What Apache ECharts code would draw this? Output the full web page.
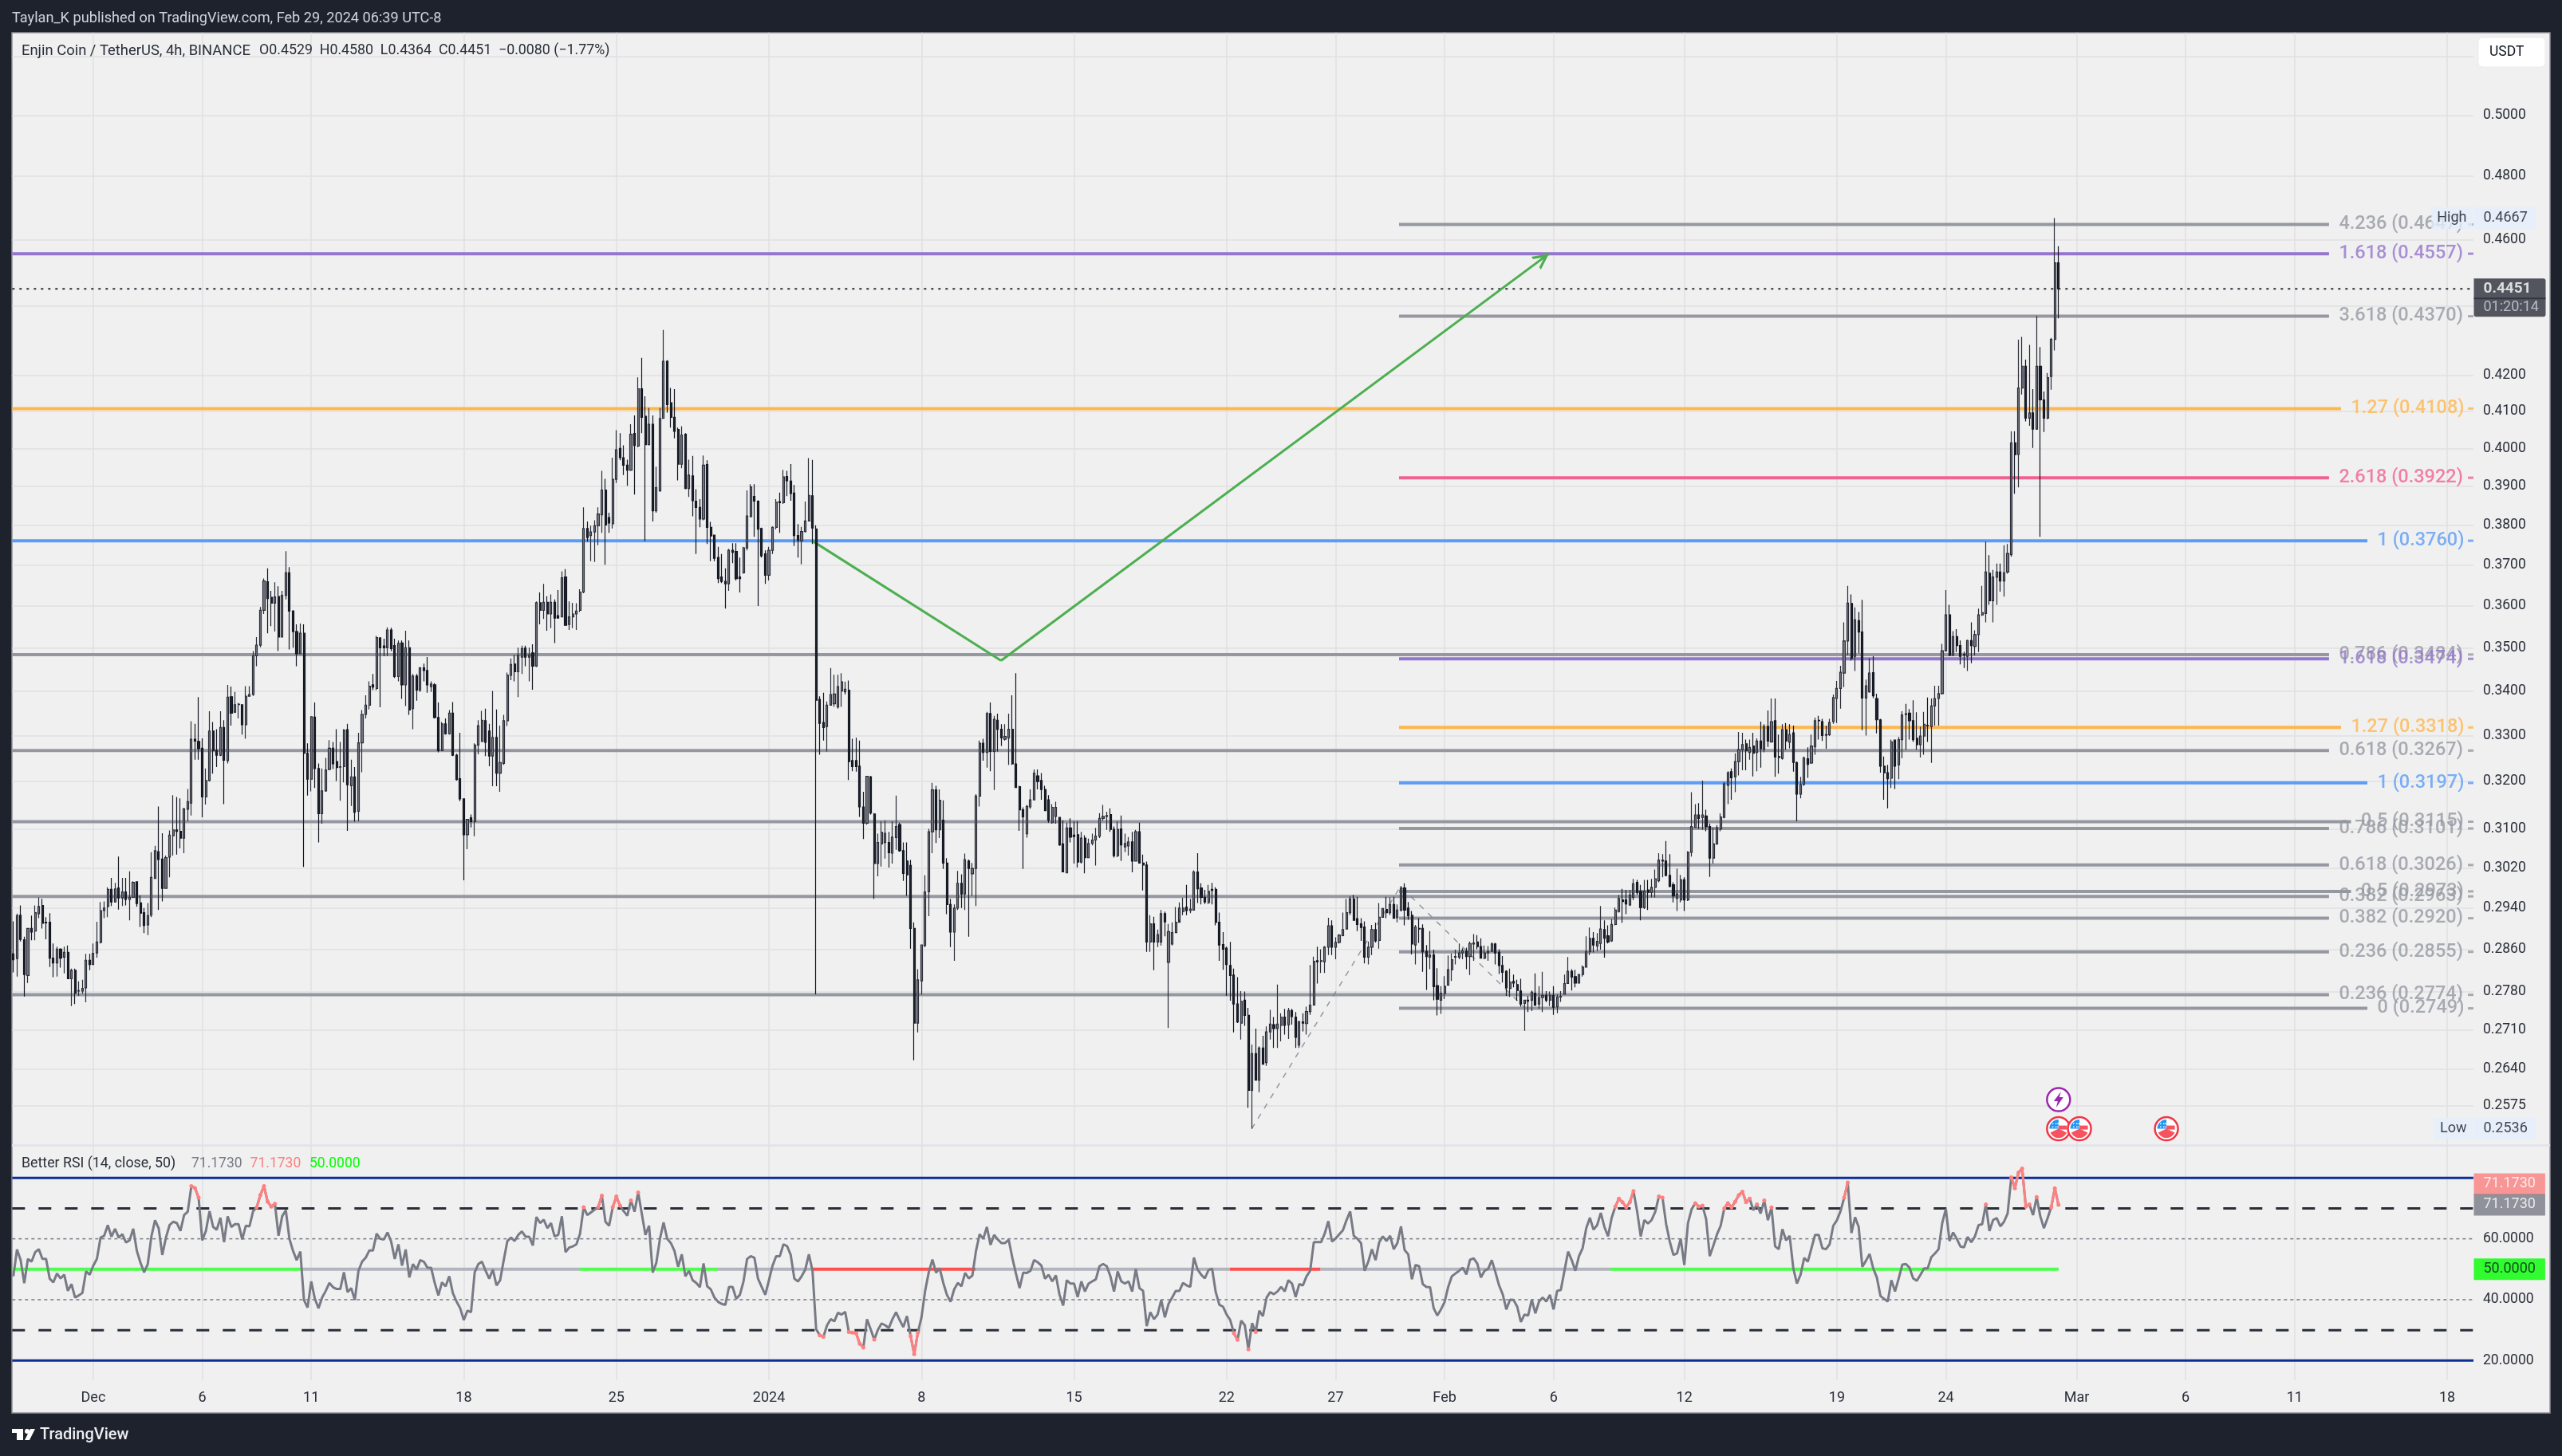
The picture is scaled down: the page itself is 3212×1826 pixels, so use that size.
<!DOCTYPE html>
<html><head><meta charset="utf-8">
<style>html,body{margin:0;padding:0;background:#1e222d}#c{width:3212px;height:1826px}</style>
<script src="https://cdn.jsdelivr.net/npm/echarts@6/dist/echarts.min.js"></script>
</head><body><div id="c"></div>
<script>
// ENJ/USDT 4h candles, oldest first
const opens=[
.2851,.2842,.2926,.2878,.2810,.2900,.2895,.2929,.2945,.2912,
.2912,.2843,.2834,.2860,.2845,.2854,.2804,.2820,.2781,.2781,
.2787,.2839,.2831,.2853,.2873,.2935,.2943,.2977,.2952,.2980,
.2960,.2972,.2957,.2961,.2992,.2950,.2931,.2907,.2926,.2999,
.3053,.3038,.2979,.3042,.3086,.3098,.3095,.3081,.3141,.3154,
.3292,.3287,.3272,.3167,.3202,.3310,.3267,.3257,.3318,.3245,
.3387,.3352,.3369,.3369,.3324,.3388,.3392,.3481,.3506,.3589,
.3658,.3620,.3606,.3622,.3525,.3625,.3680,.3587,.3538,.3486,
.3534,.3261,.3205,.3341,.3228,.3132,.3180,.3226,.3272,.3243,
.3231,.3232,.3313,.3191,.3210,.3137,.3284,.3347,.3368,.3414,
.3406,.3523,.3504,.3500,.3542,.3505,.3433,.3511,.3414,.3500,
.3360,.3434,.3402,.3453,.3447,.3410,.3414,.3340,.3267,.3326,
.3304,.3350,.3257,.3206,.3163,.3088,.3123,.3115,.3279,.3287,
.3333,.3310,.3255,.3296,.3218,.3239,.3333,.3436,.3462,.3444,
.3478,.3499,.3478,.3488,.3457,.3607,.3589,.3608,.3580,.3608,
.3576,.3573,.3670,.3555,.3573,.3580,.3589,.3633,.3791,.3773,
.3782,.3798,.3826,.3890,.3819,.3803,.3918,.4000,.3975,.3955,
.3942,.4040,.4006,.4163,.4087,.4010,.4065,.3836,.3888,.4081,
.4240,.4124,.4084,.4051,.3958,.4038,.3894,.3927,.3861,.3845,
.3815,.3957,.3794,.3774,.3718,.3670,.3659,.3653,.3736,.3733,
.3670,.3680,.3742,.3821,.3873,.3861,.3791,.3727,.3674,.3736,
.3794,.3860,.3857,.3925,.3913,.3882,.3773,.3760,.3783,.3810,
.3875,.3790,.3381,.3329,.3320,.3368,.3371,.3364,.3400,.3398,
.3402,.3245,.3245,.3233,.3146,.3112,.3210,.3131,.3029,.3069,
.3072,.3072,.3050,.3082,.3109,.3055,.3034,.3025,.2900,.2722,
.2800,.2867,.2972,.3094,.3182,.3098,.3118,.3030,.2947,.2893,
.2940,.2989,.2968,.3034,.3008,.3019,.3169,.3283,.3263,.3349,
.3265,.3334,.3314,.3292,.3295,.3314,.3238,.3189,.3140,.3090,
.3146,.3161,.3212,.3202,.3183,.3161,.3113,.3126,.3124,.3069,
.3010,.3102,.3087,.3088,.3032,.3081,.3041,.3070,.3077,.3085,
.3122,.3126,.3130,.3099,.3045,.3100,.3063,.3065,.3073,.3034,
.3094,.3030,.3026,.2874,.2909,.2874,.2874,.2929,.2835,.2870,
.2892,.2912,.2933,.2942,.2935,.2936,.3012,.2980,.2961,.2951,
.2977,.2977,.2912,.2869,.2862,.2829,.2811,.2757,.2722,.2764,
.2736,.2602,.2667,.2620,.2677,.2651,.2706,.2719,.2712,.2718,
.2733,.2719,.2745,.2733,.2682,.2724,.2721,.2743,.2755,.2838,
.2837,.2836,.2864,.2905,.2864,.2873,.2886,.2899,.2931,.2958,
.2919,.2909,.2903,.2845,.2864,.2898,.2877,.2922,.2937,.2931,
.2947,.2921,.2936,.2980,.2940,.2926,.2868,.2900,.2900,.2856,
.2845,.2849,.2791,.2764,.2776,.2792,.2821,.2845,.2845,.2853,
.2856,.2846,.2870,.2874,.2865,.2843,.2853,.2856,.2870,.2854,
.2829,.2818,.2786,.2799,.2793,.2781,.2758,.2764,.2764,.2777,
.2757,.2769,.2773,.2764,.2773,.2752,.2770,.2775,.2795,.2818,
.2808,.2796,.2812,.2826,.2855,.2881,.2866,.2871,.2898,.2886,
.2876,.2908,.2933,.2956,.2956,.2946,.2961,.2991,.2973,.2941,
.2976,.2971,.2981,.2994,.3034,.3034,.3005,.2986,.2959,.2956,
.2996,.2956,.3052,.3103,.3129,.3124,.3127,.3105,.3040,.3069,
.3100,.3124,.3192,.3221,.3210,.3243,.3269,.3282,.3263,.3277,
.3263,.3288,.3270,.3320,.3286,.3333,.3254,.3250,.3313,.3285,
.3306,.3241,.3173,.3194,.3249,.3240,.3275,.3334,.3331,.3302,
.3302,.3331,.3383,.3406,.3441,.3516,.3605,.3480,.3564,.3537,
.3384,.3398,.3442,.3383,.3335,.3233,.3219,.3207,.3290,.3236,
.3291,.3348,.3350,.3333,.3294,.3280,.3299,.3323,.3320,.3366,
.3383,.3394,.3493,.3578,.3482,.3526,.3505,.3484,.3480,.3517,
.3503,.3531,.3578,.3581,.3679,.3612,.3669,.3682,.3660,.3682,
.3725,.4015,.3984,.4165,.4226,.4082,.4096,.4052,.4226,.4132,
.4082,.4197,.4303,.4529];
const closes=[
.2840,.2925,.2879,.2812,.2900,.2893,.2931,.2943,.2910,.2911,
.2843,.2834,.2860,.2843,.2854,.2804,.2820,.2777,.2782,.2786,
.2839,.2831,.2852,.2874,.2935,.2940,.2977,.2952,.2978,.2960,
.2972,.2957,.2961,.2991,.2949,.2930,.2906,.2925,.3001,.3055,
.3037,.2979,.3041,.3087,.3098,.3095,.3081,.3142,.3157,.3292,
.3288,.3271,.3167,.3202,.3310,.3267,.3257,.3318,.3246,.3386,
.3350,.3369,.3370,.3324,.3388,.3392,.3481,.3506,.3589,.3660,
.3617,.3606,.3621,.3525,.3625,.3680,.3587,.3538,.3486,.3534,
.3261,.3205,.3342,.3228,.3132,.3180,.3225,.3272,.3238,.3230,
.3232,.3312,.3193,.3210,.3135,.3284,.3347,.3368,.3411,.3409,
.3524,.3500,.3500,.3542,.3498,.3433,.3510,.3414,.3500,.3357,
.3434,.3402,.3453,.3447,.3414,.3416,.3340,.3267,.3326,.3304,
.3350,.3257,.3204,.3163,.3088,.3120,.3115,.3279,.3322,.3334,
.3285,.3255,.3296,.3218,.3241,.3333,.3436,.3461,.3444,.3482,
.3498,.3478,.3483,.3457,.3607,.3589,.3608,.3580,.3608,.3570,
.3570,.3668,.3553,.3573,.3580,.3587,.3633,.3791,.3768,.3782,
.3798,.3828,.3890,.3800,.3805,.3918,.3996,.3975,.3955,.3942,
.4038,.4008,.4163,.4084,.4010,.4065,.3836,.3896,.4081,.4240,
.4119,.4084,.4046,.3958,.4036,.3894,.3929,.3862,.3845,.3815,
.3955,.3794,.3772,.3716,.3666,.3659,.3653,.3736,.3731,.3666,
.3666,.3742,.3823,.3898,.3861,.3789,.3722,.3674,.3736,.3794,
.3858,.3857,.3924,.3914,.3881,.3773,.3761,.3783,.3810,.3876,
.3792,.3379,.3327,.3318,.3368,.3392,.3393,.3410,.3421,.3404,
.3243,.3232,.3232,.3146,.3112,.3211,.3133,.3029,.3072,.3093,
.3091,.3051,.3083,.3105,.3055,.3009,.3006,.2900,.2722,.2802,
.2868,.2972,.3094,.3182,.3098,.3160,.3030,.2947,.2893,.2940,
.2989,.2968,.3037,.3019,.3019,.3169,.3283,.3263,.3349,.3265,
.3336,.3314,.3295,.3298,.3314,.3238,.3187,.3140,.3125,.3147,
.3161,.3218,.3200,.3183,.3138,.3118,.3145,.3145,.3067,.3012,
.3102,.3083,.3084,.3032,.3081,.3041,.3070,.3077,.3085,.3122,
.3126,.3128,.3099,.3045,.3099,.3067,.3070,.3073,.3034,.3094,
.3030,.3026,.2874,.2909,.2874,.2888,.2929,.2913,.2894,.2892,
.2912,.2940,.2940,.2935,.2938,.3012,.2978,.2961,.2952,.2973,
.2975,.2912,.2868,.2860,.2831,.2810,.2757,.2724,.2762,.2736,
.2602,.2667,.2620,.2677,.2648,.2706,.2720,.2712,.2720,.2733,
.2718,.2745,.2734,.2696,.2725,.2722,.2743,.2755,.2837,.2836,
.2838,.2864,.2905,.2864,.2873,.2887,.2898,.2931,.2958,.2916,
.2908,.2902,.2845,.2864,.2898,.2876,.2922,.2939,.2931,.2947,
.2920,.2936,.2980,.2936,.2925,.2870,.2903,.2899,.2855,.2846,
.2849,.2789,.2766,.2777,.2790,.2821,.2840,.2846,.2853,.2857,
.2846,.2871,.2872,.2865,.2843,.2853,.2856,.2870,.2853,.2829,
.2816,.2787,.2798,.2796,.2782,.2757,.2764,.2762,.2779,.2755,
.2769,.2773,.2764,.2773,.2751,.2770,.2771,.2795,.2818,.2807,
.2796,.2812,.2826,.2855,.2881,.2868,.2875,.2899,.2881,.2874,
.2908,.2936,.2959,.2953,.2948,.2966,.2988,.2971,.2941,.2973,
.2971,.2981,.2998,.3036,.3036,.3005,.2983,.2964,.2968,.2996,
.2956,.3052,.3105,.3129,.3122,.3129,.3105,.3040,.3069,.3102,
.3125,.3195,.3219,.3208,.3243,.3269,.3280,.3267,.3274,.3261,
.3288,.3271,.3320,.3288,.3331,.3253,.3252,.3313,.3288,.3302,
.3241,.3173,.3193,.3251,.3237,.3277,.3333,.3333,.3300,.3301,
.3329,.3385,.3406,.3443,.3516,.3606,.3475,.3566,.3537,.3384,
.3412,.3441,.3389,.3335,.3233,.3219,.3206,.3286,.3233,.3291,
.3346,.3347,.3333,.3291,.3280,.3299,.3325,.3322,.3366,.3383,
.3394,.3493,.3578,.3482,.3526,.3505,.3480,.3483,.3517,.3505,
.3531,.3578,.3583,.3682,.3612,.3670,.3682,.3660,.3680,.3728,
.4015,.3983,.4165,.4226,.4082,.4096,.4052,.4226,.4132,.4082,
.4194,.4303,.4529,.4451];
const lows=[
.2816,.2808,.2875,.2771,.2796,.2877,.2877,.2920,.2900,.2879,
.2826,.2807,.2808,.2825,.2814,.2804,.2753,.2757,.2772,.2776,
.2760,.2820,.2831,.2844,.2871,.2920,.2922,.2944,.2952,.2937,
.2944,.2945,.2916,.2960,.2943,.2903,.2891,.2887,.2922,.2999,
.2936,.2953,.2978,.3001,.3045,.3047,.3060,.3050,.3116,.3128,
.3247,.3247,.3124,.3151,.3200,.3217,.3231,.3255,.3152,.3239,
.3322,.3350,.3338,.3302,.3293,.3389,.3389,.3457,.3501,.3580,
.3534,.3551,.3538,.3492,.3525,.3615,.3496,.3500,.3457,.3486,
.3022,.3170,.3179,.3186,.3072,.3111,.3178,.3224,.3227,.3201,
.3159,.3198,.3096,.3148,.3115,.3116,.3220,.3338,.3358,.3402,
.3402,.3363,.3480,.3480,.3492,.3430,.3422,.3382,.3366,.3346,
.3314,.3378,.3398,.3422,.3396,.3398,.3338,.3263,.3267,.3302,
.3302,.3255,.3202,.3158,.2995,.3058,.3103,.3085,.3259,.3287,
.3255,.3233,.3190,.3190,.3178,.3236,.3321,.3425,.3422,.3386,
.3439,.3457,.3422,.3403,.3455,.3555,.3568,.3540,.3546,.3511,
.3570,.3572,.3552,.3542,.3546,.3542,.3585,.3630,.3758,.3709,
.3707,.3749,.3780,.3700,.3780,.3791,.3908,.3968,.3929,.3901,
.3940,.3878,.4003,.4041,.3759,.4008,.3809,.3831,.3885,.4080,
.4097,.4056,.4027,.3915,.3947,.3892,.3872,.3822,.3727,.3794,
.3812,.3752,.3709,.3709,.3655,.3655,.3593,.3636,.3704,.3661,
.3632,.3678,.3736,.3819,.3770,.3599,.3718,.3653,.3661,.3727,
.3789,.3780,.3854,.3874,.3862,.3747,.3718,.3701,.3781,.3809,
.3752,.2775,.3258,.3289,.3265,.3368,.3364,.3360,.3364,.3392,
.3203,.3222,.3221,.3125,.3079,.3109,.3130,.2958,.3003,.3023,
.3039,.3021,.3029,.3057,.3053,.2994,.2964,.2861,.2655,.2705,
.2774,.2864,.2924,.3050,.3071,.3081,.3018,.2928,.2864,.2838,
.2936,.2940,.2936,.2884,.2964,.2944,.3147,.3245,.3230,.3222,
.3182,.3265,.3277,.3289,.3236,.3236,.3187,.3096,.3018,.3082,
.3142,.3161,.3183,.3161,.3137,.3113,.3111,.3111,.3065,.3011,
.3009,.3072,.3029,.3021,.3029,.3009,.3041,.3066,.3025,.3081,
.3117,.3098,.3094,.3041,.3042,.3034,.3052,.3045,.3011,.3033,
.3029,.2975,.2855,.2855,.2820,.2864,.2867,.2885,.2713,.2867,
.2892,.2917,.2926,.2926,.2930,.2936,.2950,.2947,.2948,.2948,
.2947,.2906,.2838,.2821,.2772,.2763,.2705,.2722,.2692,.2717,
.2572,.2536,.2620,.2599,.2648,.2645,.2692,.2677,.2677,.2689,
.2701,.2693,.2719,.2677,.2677,.2707,.2701,.2737,.2754,.2795,
.2815,.2815,.2849,.2849,.2841,.2871,.2885,.2898,.2926,.2915,
.2895,.2876,.2833,.2831,.2849,.2873,.2861,.2921,.2920,.2926,
.2919,.2912,.2933,.2906,.2917,.2850,.2831,.2872,.2817,.2783,
.2822,.2764,.2736,.2739,.2766,.2791,.2800,.2831,.2841,.2841,
.2822,.2811,.2838,.2860,.2842,.2841,.2838,.2855,.2831,.2813,
.2797,.2772,.2770,.2788,.2763,.2752,.2708,.2742,.2744,.2753,
.2748,.2742,.2760,.2753,.2737,.2740,.2761,.2775,.2797,.2782,
.2788,.2795,.2808,.2825,.2849,.2854,.2856,.2859,.2844,.2871,
.2874,.2906,.2931,.2911,.2928,.2944,.2956,.2966,.2916,.2938,
.2936,.2961,.2961,.2991,.3001,.3003,.2981,.2951,.2934,.2951,
.2934,.2954,.3043,.3102,.3100,.3098,.3095,.3002,.3029,.3067,
.3095,.3122,.3152,.3161,.3177,.3213,.3224,.3224,.3247,.3211,
.3222,.3230,.3263,.3275,.3284,.3210,.3217,.3247,.3269,.3272,
.3221,.3116,.3164,.3191,.3208,.3238,.3258,.3291,.3288,.3271,
.3299,.3326,.3328,.3360,.3409,.3483,.3470,.3446,.3487,.3312,
.3300,.3396,.3384,.3305,.3219,.3161,.3143,.3186,.3184,.3205,
.3250,.3269,.3291,.3286,.3269,.3252,.3258,.3286,.3240,.3322,
.3322,.3392,.3491,.3480,.3482,.3490,.3461,.3453,.3446,.3464,
.3482,.3490,.3575,.3560,.3602,.3560,.3602,.3634,.3622,.3678,
.3720,.3880,.3897,.4147,.4073,.4061,.4001,.4050,.3770,.4044,
.4079,.4160,.4271,.4364];
const highs=[
.2914,.2929,.2945,.2884,.2900,.2925,.2945,.2961,.2958,.2922,
.2930,.2871,.2865,.2862,.2865,.2867,.2823,.2823,.2799,.2802,
.2851,.2851,.2871,.2913,.2952,.2953,.2981,.3000,.2990,.3043,
.3000,.3000,.3013,.2993,.2993,.2965,.2940,.2950,.3052,.3065,
.3147,.3091,.3045,.3097,.3171,.3167,.3164,.3144,.3184,.3332,
.3326,.3386,.3294,.3228,.3354,.3330,.3314,.3354,.3334,.3414,
.3410,.3398,.3373,.3369,.3411,.3411,.3492,.3525,.3597,.3666,
.3691,.3636,.3657,.3647,.3636,.3734,.3694,.3589,.3555,.3557,
.3555,.3283,.3342,.3374,.3239,.3228,.3251,.3290,.3286,.3314,
.3286,.3314,.3326,.3247,.3231,.3306,.3357,.3390,.3422,.3439,
.3528,.3525,.3521,.3548,.3547,.3521,.3517,.3517,.3540,.3517,
.3439,.3439,.3455,.3463,.3478,.3422,.3418,.3374,.3330,.3338,
.3357,.3375,.3260,.3306,.3163,.3121,.3130,.3283,.3334,.3355,
.3360,.3326,.3400,.3358,.3322,.3346,.3442,.3475,.3483,.3500,
.3505,.3505,.3500,.3508,.3610,.3632,.3653,.3623,.3627,.3615,
.3638,.3684,.3689,.3610,.3607,.3606,.3640,.3845,.3809,.3798,
.3812,.3845,.3940,.3919,.3831,.3975,.4049,.4041,.4008,.3970,
.4065,.4089,.4195,.4250,.4142,.4110,.4089,.3951,.4110,.4330,
.4243,.4165,.4162,.4056,.4060,.4041,.3970,.3980,.3892,.3866,
.3981,.3968,.3808,.3774,.3745,.3727,.3691,.3740,.3754,.3754,
.3718,.3745,.3889,.3905,.3905,.3863,.3793,.3736,.3745,.3796,
.3866,.3883,.3943,.3940,.3958,.3903,.3802,.3795,.3860,.3974,
.3969,.3799,.3388,.3396,.3376,.3453,.3437,.3437,.3441,.3421,
.3424,.3293,.3295,.3289,.3178,.3212,.3212,.3133,.3090,.3116,
.3118,.3094,.3116,.3170,.3113,.3072,.3072,.3036,.2912,.2822,
.2868,.3005,.3100,.3197,.3191,.3183,.3160,.3040,.2958,.2947,
.3014,.3007,.3049,.3037,.3030,.3173,.3289,.3293,.3353,.3374,
.3344,.3349,.3325,.3325,.3349,.3390,.3441,.3191,.3145,.3150,
.3183,.3226,.3226,.3218,.3191,.3171,.3152,.3157,.3124,.3118,
.3113,.3122,.3116,.3116,.3094,.3087,.3080,.3090,.3102,.3133,
.3150,.3136,.3143,.3105,.3116,.3128,.3090,.3083,.3094,.3098,
.3113,.3047,.3033,.2926,.2923,.2898,.2936,.2933,.2909,.2912,
.2942,.2951,.2960,.2986,.2958,.3015,.3050,.2989,.2976,.2986,
.2990,.2981,.2931,.2893,.2865,.2874,.2823,.2807,.2781,.2780,
.2750,.2683,.2712,.2680,.2699,.2716,.2746,.2733,.2793,.2740,
.2748,.2750,.2748,.2742,.2725,.2740,.2752,.2830,.2846,.2865,
.2860,.2866,.2921,.2916,.2883,.2889,.2931,.2958,.2963,.2966,
.2962,.2920,.2914,.2875,.2907,.2911,.2950,.2940,.2962,.2961,
.2962,.2947,.2984,.2989,.2952,.2934,.2907,.2920,.2908,.2868,
.2895,.2859,.2824,.2790,.2809,.2848,.2852,.2859,.2871,.2862,
.2863,.2875,.2889,.2887,.2881,.2867,.2866,.2873,.2872,.2860,
.2847,.2820,.2823,.2812,.2802,.2804,.2765,.2772,.2782,.2814,
.2790,.2817,.2781,.2780,.2790,.2775,.2781,.2812,.2845,.2822,
.2821,.2813,.2829,.2885,.2902,.2893,.2891,.2944,.2916,.2906,
.2918,.2941,.2966,.2978,.2976,.2976,.2998,.2996,.2986,.2996,
.2996,.2998,.3017,.3050,.3048,.3075,.3048,.2991,.3019,.3006,
.3001,.3054,.3177,.3152,.3154,.3202,.3140,.3111,.3102,.3108,
.3132,.3199,.3222,.3228,.3261,.3308,.3306,.3291,.3291,.3306,
.3294,.3331,.3325,.3356,.3383,.3383,.3302,.3325,.3328,.3325,
.3322,.3243,.3210,.3254,.3274,.3302,.3340,.3344,.3337,.3322,
.3337,.3392,.3423,.3458,.3560,.3648,.3627,.3596,.3585,.3614,
.3426,.3476,.3480,.3394,.3337,.3254,.3236,.3291,.3291,.3297,
.3354,.3371,.3359,.3379,.3352,.3320,.3353,.3385,.3383,.3412,
.3412,.3509,.3638,.3602,.3539,.3544,.3517,.3491,.3519,.3560,
.3541,.3593,.3648,.3758,.3724,.3687,.3703,.3703,.3749,.3752,
.4046,.4046,.4302,.4310,.4245,.4287,.4162,.4371,.4281,.4155,
.4207,.4307,.4667,.4580];
// Better RSI (14, close, 50)
const rsi=[
47.7,56.5,53.0,45.4,53.4,52.5,55.6,56.6,53.4,53.4,
46.9,45.7,48.6,47.0,48.2,42.9,45.1,40.7,41.4,42.2,
49.3,48.2,51.2,53.4,60.4,61.0,64.5,60.7,63.3,60.4,
61.5,58.8,59.5,63.3,56.0,52.1,49.0,51.7,60.8,66.1,
63.5,54.7,60.4,64.5,65.6,65.2,62.6,67.8,68.9,77.3,
76.7,73.5,59.5,62.6,69.1,63.9,63.0,66.9,58.9,67.4,
63.9,64.8,64.8,59.8,64.3,64.1,69.1,70.4,74.4,77.3,
72.2,70.6,71.5,61.0,67.4,69.4,60.0,56.0,53.0,55.8,
39.9,37.4,46.0,40.3,37.2,40.7,42.9,45.5,44.1,43.5,
43.5,49.0,42.5,43.8,39.9,49.5,52.5,53.8,56.2,56.2,
61.7,60.0,59.8,62.1,59.1,53.4,58.2,51.2,56.5,47.3,
51.7,49.9,53.0,52.5,50.5,50.5,45.5,41.4,45.7,44.4,
47.7,42.1,39.4,37.2,33.3,36.4,35.9,49.0,51.7,52.5,
49.5,46.9,49.9,44.7,46.4,53.0,59.3,60.4,59.3,61.3,
62.4,60.7,60.7,57.8,67.2,65.2,66.3,63.5,65.2,60.8,
61.3,67.4,55.6,57.1,57.5,58.2,61.7,70.4,67.8,68.7,
69.6,70.4,74.2,65.6,64.3,70.4,73.9,70.9,69.1,67.6,
72.6,68.9,75.2,68.3,61.3,64.3,48.9,52.1,60.0,65.4,
60.0,58.6,56.0,50.8,54.9,47.7,49.5,46.4,45.5,44.1,
51.9,44.4,43.4,40.7,39.3,38.6,38.3,44.2,44.2,40.3,
41.6,46.0,53.4,54.3,53.8,46.9,44.2,41.6,46.4,51.2,
54.3,54.3,58.2,57.6,54.7,46.9,46.0,47.7,49.9,54.9,
49.5,30.3,28.3,27.8,31.6,33.6,32.9,35.7,35.1,36.0,
29.4,29.2,29.0,25.5,24.3,33.6,30.3,26.9,30.1,32.2,
31.6,30.7,33.6,35.9,33.3,31.0,34.6,28.1,22.1,29.2,
34.2,42.9,49.0,53.2,48.9,50.3,45.5,41.6,39.3,43.4,
45.5,44.4,48.8,47.0,47.9,56.0,61.5,60.0,63.9,58.0,
61.3,59.8,58.6,58.6,59.7,53.8,48.6,43.8,48.9,48.8,
49.5,53.0,52.3,51.2,46.9,48.2,46.0,48.0,41.6,38.1,
46.4,45.3,45.3,40.9,46.0,42.7,45.3,46.0,46.7,51.0,
51.7,51.0,47.7,42.7,49.3,46.0,45.3,46.0,42.7,50.1,
43.8,42.9,31.3,35.9,33.6,35.1,39.9,34.2,38.6,40.7,
42.9,42.9,45.5,44.7,44.2,53.8,49.9,48.2,47.0,49.7,
50.2,42.5,38.3,37.7,35.1,33.3,29.0,26.8,33.1,31.6,
23.7,32.3,29.4,36.4,34.6,40.7,42.5,41.8,42.7,44.2,
42.7,46.4,45.3,40.9,45.1,44.7,47.7,49.5,58.9,58.9,
58.9,61.7,65.8,59.1,60.1,61.5,62.8,66.1,69.0,61.0,
60.0,58.6,49.5,52.5,56.6,53.0,58.9,60.8,59.3,61.0,
56.6,58.6,64.1,56.3,54.9,46.7,51.4,51.0,45.1,44.2,
44.1,37.2,34.8,36.8,39.2,44.2,47.7,48.6,49.5,50.5,
48.3,53.1,53.6,51.9,47.3,49.5,50.1,53.0,49.0,44.7,
41.8,36.8,40.0,39.9,37.7,32.7,35.1,34.8,40.0,35.5,
39.4,40.7,39.4,41.6,36.8,42.9,43.2,49.5,55.8,53.0,
49.5,54.3,56.9,63.5,66.9,63.0,64.5,68.5,63.9,60.8,
66.9,70.6,73.2,72.0,70.4,72.0,75.7,69.1,60.8,66.2,
65.0,66.2,68.9,73.9,73.5,64.8,59.1,54.7,55.2,60.1,
51.4,65.2,69.7,71.7,70.6,70.9,66.5,54.3,57.8,61.5,
64.3,70.0,71.7,70.4,72.2,74.4,75.5,72.0,73.2,69.4,
71.3,68.3,72.6,66.1,70.3,57.5,56.6,63.2,59.5,61.0,
50.3,45.3,48.2,53.7,52.5,56.9,61.3,61.3,56.9,56.6,
58.2,64.3,66.1,69.1,73.5,78.5,61.9,67.1,63.9,50.8,
52.8,55.0,50.3,47.3,41.2,40.3,39.4,46.4,42.7,46.9,
51.5,51.7,50.5,47.0,46.2,48.2,50.3,50.3,54.0,55.2,
56.6,65.2,69.8,59.3,62.1,60.0,57.5,57.2,60.6,58.9,
60.8,64.5,64.8,71.3,62.6,66.2,66.8,64.1,65.6,68.3,
80.2,76.6,81.8,83.1,70.6,71.3,67.8,73.7,67.4,63.5,
66.8,70.4,76.6,71.17];

// x unit: days since 2024-01-01 (UTC-8); last bar opened Feb 29 04:00
const lastBarDay=59+4/24;
const barDays=opens.map((_,i)=>lastBarDay-(opens.length-1-i)/6);
const xMin=-34.72,xMax=78.207;
const timeTickDays=[-31,-26,-21,-14,-7,0,7,14,21,26,31,36,42,49,54,60,65,70,77];
const timeTickLabels=['Dec','6','11','18','25','2024','8','15','22','27','Feb','6','12','19','24','Mar','6','11','18'];
const priceTicks=[.52,.5,.48,.46,.44,.42,.41,.40,.39,.38,.37,.36,.35,.34,.33,.32,.31,.302,.294,.286,.278,.271,.264,.2575];
const priceHidden=[.52,.44];
const rsiTicks=[20,40,60];
const priceMin=.25085,priceMax=.5284;

// Fibonacci drawing: level, price, colour key, start day, end day
const leftStart=xMin,rightStart=28.91;
const fibLevels=['1.618','1.27','1','0.786','0.618','0.5','0.382','0.236','4.236','3.618','2.618','1.618','1.27','1','0.786','0.618','0.5','0.382','0.236','0'];
const fibPrices=[.4557,.4108,.3760,.3484,.3267,.3115,.2963,.2774,.4647,.4370,.3922,.3474,.3318,.3197,.3101,.3026,.2973,.2920,.2855,.2749];
const fibPriceText=['0.4557','0.4108','0.3760','0.3484','0.3267','0.3115','0.2963','0.2774','0.4647','0.4370','0.3922','0.3474','0.3318','0.3197','0.3101','0.3026','0.2973','0.2920','0.2855','0.2749'];
const fibColours=['#9575cd','#ffb74d','#5b9cf6','#9598a1','#9598a1','#9598a1','#9598a1','#9598a1','#9598a1','#9598a1','#f06292','#9575cd','#ffb74d','#5b9cf6','#9598a1','#9598a1','#9598a1','#9598a1','#9598a1','#9598a1'];
const fibStarts=[leftStart,leftStart,leftStart,leftStart,leftStart,leftStart,leftStart,leftStart,rightStart,rightStart,rightStart,rightStart,rightStart,rightStart,rightStart,rightStart,rightStart,rightStart,rightStart,rightStart];
const fibEnds=[71.58,72.13,73.34,71.58,71.58,72.59,71.58,71.58,71.58,71.58,71.58,71.58,72.13,73.34,71.58,71.58,72.59,71.58,71.58,73.34];

// Drawn path and trend
const pathDays=[1.98,10.65,35.79],pathPrices=[.3760,.3470,.4557];
const trendDays=[22.15,28.98,34.7],trendPrices=[.2536,.2983,.2749];
const lastClose=.4451,allHigh=.4667,allLow=.2536;

// RSI 50-line colour segments
const midEdges=[xMin,-21.41,-8.71,-2.34,1.94,9.48,21.15,25.31,38.61,59.17];
const midColours=['#4dff4d','#b2b5be','#4dff4d','#b2b5be','#ff5050','#b2b5be','#ff5050','#b2b5be','#4dff4d'];

// Economic event markers: day, price, kind
const eventDays=[59.17,59.17,60.13,64.12],eventPrices=[.2586,.2536,.2536,.2536],eventKinds=[1,0,0,0];

const FONT='Roboto';
const chart=echarts.init(document.getElementById('c'),null,{renderer:'canvas',width:3212,height:1826});
const boxSeries=(gridIdx,items)=>({type:'scatter',xAxisIndex:gridIdx,yAxisIndex:gridIdx,symbolSize:1,clip:false,z:30,silent:true,animation:false,
  itemStyle:{color:'transparent'},data:items});
const lineBase=(grid,data,style,z)=>({type:'line',xAxisIndex:grid,yAxisIndex:grid,data,showSymbol:false,symbol:'none',silent:true,animation:false,z:z||3,lineStyle:style});

const series=[];
series.push(lineBase(0,[[xMin,lastClose],[xMax,lastClose]],{color:'#2a2e39',width:2,type:[3,6]},4));
fibPrices.forEach((p,i)=>series.push(lineBase(0,[[fibStarts[i],p],[fibEnds[i],p]],{color:fibColours[i],width:4},3)));
series.push(lineBase(0,pathDays.slice(0,2).map((d,i)=>[d,pathPrices[i]]),{color:'#4caf50',width:3},3));
series.push(Object.assign(lineBase(0,[],{},3),{markLine:{silent:true,animation:false,symbol:['none','path://M0,14L7,0L14,14L11.5,14L7,5L2.5,14Z M7,-14L7.01,-14L7,-14Z'],symbolSize:[20,40],label:{show:false},
  lineStyle:{color:'#4caf50',width:3,type:'solid'},data:[[{coord:[pathDays[1],pathPrices[1]]},{coord:[pathDays[2],pathPrices[2]]}]]}}));
series.push(lineBase(0,trendDays.map((d,i)=>[d,trendPrices[i]]),{color:'#787b86',width:1.5,type:[7,8],opacity:.75},3));
series.push({type:'candlestick',xAxisIndex:0,yAxisIndex:0,z:5,silent:true,animation:false,barWidth:2.6,clip:true,large:false,progressive:0,
  itemStyle:{color:'#787b86',color0:'#1e222d',borderColor:'#2b2e38',borderColor0:'#131722',borderWidth:1.2},
  data:opens.map((o,i)=>[barDays[i],o,closes[i],lows[i],highs[i]])});
series.push(boxSeries(0,fibPrices.map((p,i)=>({value:[fibEnds[i],p],label:{show:true,position:'right',distance:12,padding:[6,0,0,0],formatter:fibLevels[i]+' ('+fibPriceText[i]+')',color:fibColours[i],fontSize:23.5,fontWeight:500,fontFamily:FONT}}))));
series.push(Object.assign(boxSeries(0,fibPrices.map((p,i)=>({value:[78.08,p],itemStyle:{color:fibColours[i]}}))),{symbol:'rect',symbolSize:[7,3],z:4}));
// event markers
series.push({type:'custom',xAxisIndex:0,yAxisIndex:0,z:6,silent:true,animation:false,clip:false,
  data:eventDays.map((d,i)=>[d,eventPrices[i],eventKinds[i]]),
  renderItem(p,api){
    const [cx,cy]=api.coord([api.value(0),api.value(1)]);const kind=api.value(2);
    if(kind===1){return {type:'group',children:[
      {type:'circle',shape:{cx,cy,r:14.5},style:{fill:'#fff',stroke:'#9c27b0',lineWidth:2.5}},
      {type:'polygon',shape:{points:[[cx+3,cy-10],[cx-6,cy+2],[cx-1,cy+2],[cx-3,cy+10],[cx+6,cy-3],[cx+1,cy-3]]},style:{fill:'#9c27b0'}}]};}
    const kids=[{type:'circle',shape:{cx,cy,r:14.5},style:{fill:'#fff',stroke:'#f23645',lineWidth:2.5}},
      {type:'sector',shape:{cx,cy,r:11.5,r0:0,startAngle:.45,endAngle:Math.PI-.45},style:{fill:'#f7525f'}},
      {type:'sector',shape:{cx,cy,r:11.5,r0:0,startAngle:Math.PI,endAngle:Math.PI*1.5},style:{fill:'#2196f3'}},
      {type:'rect',shape:{x:cx,y:cy-4,width:10.5,height:5},style:{fill:'#f7525f'}}];
    [[-8,-3],[-4,-3],[-8,-7],[-4,-7],[-1.5,-3],[-1.5,-7]].forEach(o=>kids.push({type:'rect',shape:{x:cx+o[0],y:cy+o[1],width:1.5,height:1.5},style:{fill:'#fff'}}));
    return {type:'group',children:kids};
  }});
// price boxes on the axis
series.push(boxSeries(0,[
 {value:[xMax,allHigh],label:{show:true,position:'right',distance:0,formatter:'0.4667',fontSize:18,fontFamily:FONT,color:'#131722',backgroundColor:'#e3effd',padding:[7,10,2,12]}},
 {value:[xMax,allHigh],label:{show:true,position:'left',distance:1,formatter:'High',fontSize:18,fontFamily:FONT,color:'#131722',backgroundColor:'#e3effd',padding:[7,7,2,7]}},
 {value:[xMax,allLow],label:{show:true,position:'right',distance:0,formatter:'0.2536',fontSize:18,fontFamily:FONT,color:'#131722',backgroundColor:'#e3effd',padding:[7,10,2,12]}},
 {value:[xMax,allLow],label:{show:true,position:'left',distance:1,formatter:'Low',fontSize:18,fontFamily:FONT,color:'#131722',backgroundColor:'#e3effd',padding:[7,7,2,7]}},
 {value:[xMax,lastClose],label:{show:true,position:'right',distance:0,offset:[0,0],formatter:'0.4451',fontSize:19,fontWeight:'bold',fontFamily:FONT,color:'#ffffff',backgroundColor:'#2a2e39',borderRadius:[0,3,0,0],width:70,height:24,lineHeight:24,padding:[2,8,0,12]}},
 {value:[xMax,lastClose],label:{show:true,position:'right',distance:0,offset:[0,23],formatter:'01:20:14',fontSize:18,fontFamily:FONT,color:'#d1d4dc',backgroundColor:'#2a2e39',borderRadius:[0,0,3,3],width:70,height:24,lineHeight:24,padding:[0,8,0,12]}}
]));
// RSI pane
series.push(lineBase(1,[[xMin,80],[xMax,80]],{color:'#0d2f96',width:3},2));
series.push(lineBase(1,[[xMin,20],[xMax,20]],{color:'#0d2f96',width:3},2));
series.push(lineBase(1,[[xMin,70],[xMax,70]],{color:'#2a2e39',width:3,type:[16,17]},2));
series.push(lineBase(1,[[xMin,30],[xMax,30]],{color:'#2a2e39',width:3,type:[16,17]},2));
series.push(lineBase(1,[[xMin,60],[xMax,60]],{color:'#787b86',width:1.5,type:[4,4]},2));
series.push(lineBase(1,[[xMin,40],[xMax,40]],{color:'#787b86',width:1.5,type:[4,4]},2));
midColours.forEach((c,i)=>series.push(lineBase(1,[[midEdges[i],50],[midEdges[i+1],50]],{color:c,width:4},2)));
series.push(lineBase(1,rsi.map((v,i)=>[barDays[i],v]),{color:'#787b86',width:3},3));
series.push({type:'line',xAxisIndex:1,yAxisIndex:1,silent:true,animation:false,z:4,showSymbol:true,showAllSymbol:true,symbol:'circle',symbolSize:5,
  itemStyle:{color:'#ff8080'},lineStyle:{color:'#ff8080',width:3},connectNulls:false,
  data:rsi.map((v,i)=>[barDays[i],(v>=70||v<=30)?v:null])});
series.push(boxSeries(1,[
 {value:[xMax,71.173],label:{show:true,position:'right',distance:0,offset:[0,-26],formatter:'71.1730',fontSize:18,fontFamily:FONT,color:'#fff',backgroundColor:'#fa8080',padding:[7,12,2,12]}},
 {value:[xMax,71.173],label:{show:true,position:'right',distance:0,formatter:'71.1730',fontSize:18,fontFamily:FONT,color:'#fff',backgroundColor:'#787b86',padding:[7,12,2,12]}},
 {value:[xMax,50],label:{show:true,position:'right',distance:0,formatter:'50.0000',fontSize:18,fontFamily:FONT,color:'#131722',backgroundColor:'#00ff00',padding:[7,12,2,12]}}
]));

const axisText={color:'#2a2e39',fontSize:17.5,fontFamily:FONT};
const gridLine={show:true,lineStyle:{color:'#e0e1e3',width:1.5}};
const option={
 backgroundColor:'#1e222d',animation:false,
 grid:[{left:15.3,top:41,width:3085.7,height:1395},{left:15.3,top:1436,width:3085.7,height:295}],
 xAxis:[
  {type:'value',gridIndex:0,min:xMin,max:xMax,position:'bottom',axisLine:{show:false},axisTick:{show:false,customValues:timeTickDays},axisLabel:{show:false,customValues:timeTickDays},splitLine:gridLine},
  {type:'value',gridIndex:1,min:xMin,max:xMax,position:'bottom',axisLine:{show:false},axisTick:{show:false,customValues:timeTickDays},
   axisLabel:{show:true,customValues:timeTickDays,margin:13,...axisText,fontSize:18,hideOverlap:false,formatter:v=>timeTickLabels[timeTickDays.indexOf(v)]},splitLine:gridLine}
 ],
 yAxis:[
  {type:'log',gridIndex:0,min:priceMin,max:priceMax,position:'right',axisLine:{show:false},axisTick:{show:false,customValues:priceTicks},
   axisLabel:{show:true,customValues:priceTicks,margin:12,padding:[5,0,0,0],...axisText,hideOverlap:false,formatter:v=>priceHidden.includes(v)?'':Number(v).toFixed(4)},splitLine:gridLine},
  {type:'value',gridIndex:1,min:13.53,max:90.82,position:'right',axisLine:{show:false},axisTick:{show:false,customValues:rsiTicks},
   axisLabel:{show:true,customValues:rsiTicks,margin:12,padding:[5,0,0,0],...axisText,formatter:v=>Number(v).toFixed(4)},splitLine:{show:false}}
 ],
 series,
 graphic:{elements:[
  {type:'rect',z:-100,silent:true,shape:{x:15,y:41,width:3182,height:1731},style:{fill:'#f0f0f0',stroke:'#8f9198',lineWidth:1.5}},
  {type:'line',z:-50,silent:true,shape:{x1:15,y1:1436.5,x2:3197,y2:1436.5},style:{stroke:'#e0e3eb',lineWidth:2.5}},
  {type:'text',z:100,silent:true,x:15,y:23,style:{text:'Taylan_K published on TradingView.com, Feb 29, 2024 06:39 UTC-8',fill:'#d1d4dc',font:'18.15px '+FONT,verticalAlign:'middle'}},
  {type:'text',z:100,silent:true,x:27,y:64,style:{text:'Enjin Coin / TetherUS, 4h, BINANCE',fill:'#2a2e39',font:'18.4px '+FONT,verticalAlign:'middle'}},
  {type:'text',z:100,silent:true,x:325,y:64,style:{text:'O0.4529  H0.4580  L0.4364  C0.4451  −0.0080 (−1.77%)',fill:'#2a2e39',font:'17.8px '+FONT,verticalAlign:'middle'}},
  {type:'text',z:100,silent:true,x:27,y:1460,style:{text:'Better RSI (14, close, 50)',fill:'#2a2e39',font:'17.8px '+FONT,verticalAlign:'middle'}},
  {type:'text',z:100,silent:true,x:240,y:1460,style:{text:'71.1730',fill:'#787b86',font:'17.5px '+FONT,verticalAlign:'middle'}},
  {type:'text',z:100,silent:true,x:313.6,y:1460,style:{text:'71.1730',fill:'#fa8080',font:'17.5px '+FONT,verticalAlign:'middle'}},
  {type:'text',z:100,silent:true,x:388,y:1460,style:{text:'50.0000',fill:'#00ff00',font:'17.5px '+FONT,verticalAlign:'middle'}},
  {type:'rect',z:100,silent:true,shape:{x:3107,y:47,width:84,height:37,r:5},style:{fill:'#ffffff',stroke:'#e9ebf0',lineWidth:1}},
  {type:'text',z:101,silent:true,x:3121,y:65.5,style:{text:'USDT',fill:'#131722',font:'17.5px '+FONT,verticalAlign:'middle'}},
  {type:'rect',z:100,silent:true,shape:{x:15,y:1792,width:14,height:5},style:{fill:'#fff'}},
  {type:'rect',z:100,silent:true,shape:{x:21,y:1792,width:8,height:14},style:{fill:'#fff'}},
  {type:'circle',z:100,silent:true,shape:{cx:34,cy:1795,r:3},style:{fill:'#fff'}},
  {type:'polygon',z:100,silent:true,shape:{points:[[38,1792],[44,1792],[37,1806],[31,1806]]},style:{fill:'#fff'}},
  {type:'text',z:100,silent:true,x:50,y:1800,style:{text:'TradingView',fill:'#eceef2',font:'500 20px '+FONT,verticalAlign:'middle'}}
 ]}
};
chart.setOption(option);
</script></body></html>
